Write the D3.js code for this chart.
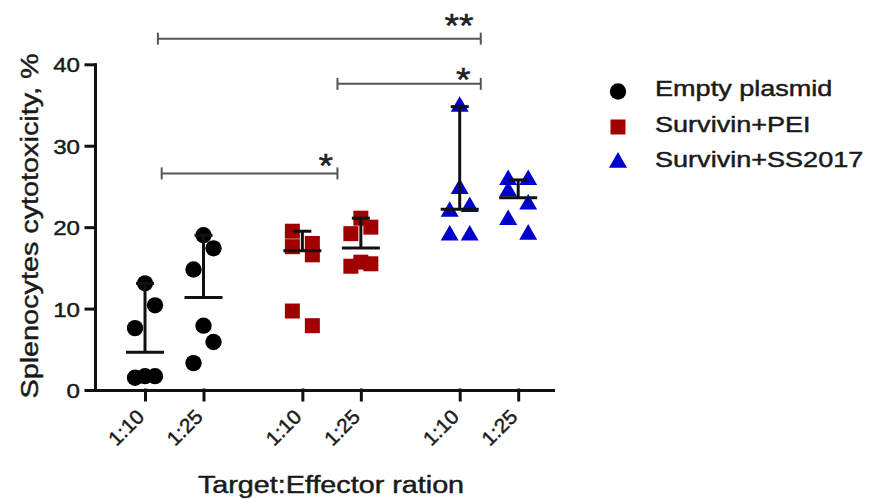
<!DOCTYPE html>
<html>
<head>
<meta charset="utf-8">
<script src="https://cdn.jsdelivr.net/npm/d3@7"></script>
<style>
  body { margin: 0; background: #fff; }
  svg { display: block; font-family: "Liberation Sans", Arial, sans-serif; }
  svg text { stroke: #1a1a1a; stroke-width: 0.45px; }
</style>
</head>
<body>
<div id="viz"></div>
<script>
// values
const groups = ["Empty plasmid", "Survivin+PEI", "Survivin+SS2017"];
const ratios = ["1:10", "1:25"];
const groupColors = ["#000000", "#a00000", "#0000cc"];
const groupShapes = [d3.symbolCircle, d3.symbolSquare, d3.symbolTriangle];
const emptyPlasmid = [[13.1, 10.4, 7.6, 1.7, 1.5, 1.7], [19.0, 17.4, 14.8, 7.9, 5.9, 3.3]];
const survivinPEI = [[19.5, 18.0, 17.6, 16.6, 9.7, 7.9], [21.1, 20.0, 19.2, 15.7, 15.5, 15.2]];
const survivinSS2017 = [[34.8, 24.7, 22.5, 21.9, 19.0, 19.0], [25.8, 25.8, 24.4, 22.8, 20.9, 19.1]];
const yTicks = [0, 10, 20, 30, 40];
// significance brackets: from/to column (index + fraction), height in %, label
const brackets = [
  { from: 0.22, to: 5.74, y: 43.15, label: "**", labelX: 5.37, labelY: 43.4 },
  { from: 3.29, to: 5.74, y: 37.6, label: "*", labelX: 5.44, labelY: 36.7 },
  { from: 0.285, to: 3.29, y: 26.6, label: "*", labelX: 3.09, labelY: 26.1 }
];

const seriesData = [emptyPlasmid, survivinPEI, survivinSS2017];
const width = 871, height = 499;
const groupGap = 0.69;

const svg = d3.select("#viz").append("svg")
  .attr("width", width)
  .attr("height", height);

const x = d3.scaleLinear().domain([-0.855, 6.975]).range([95, 553]);
const y = d3.scaleLinear().domain([0, 40]).range([390, 64.3]);

const columns = [];
seriesData.forEach((s, g) => {
  s.forEach((vals, r) => {
    columns.push({ g, r, pos: g * (2 + groupGap) + r, values: vals });
  });
});

// spread points that sit close together: runs of near values alternate sides
function spread(values) {
  const step = 10, gap = 25;
  const order = values.map((v, i) => i).sort((a, b) => values[b] - values[a]);
  const offsets = new Array(values.length).fill(0);
  const runs = [];
  order.forEach((i, k) => {
    if (k > 0 && y(values[i]) - y(values[order[k - 1]]) <= gap) runs[runs.length - 1].push(i);
    else runs.push([i]);
  });
  runs.forEach(run => {
    const odd = run.length % 2 === 1;
    run.forEach((i, k) => {
      if (odd) offsets[i] = k === 0 ? 0 : (k % 2 ? step : -step);
      else offsets[i] = k % 2 ? step : -step;
    });
  });
  return offsets;
}

// axes
const yAxis = svg.append("g")
  .attr("transform", "translate(95,0)")
  .call(d3.axisLeft(y).tickValues(yTicks).tickSize(9).tickSizeOuter(0));

const xAxis = svg.append("g")
  .attr("transform", "translate(0,390)")
  .call(d3.axisBottom(x)
    .tickValues(columns.map(c => c.pos))
    .tickFormat((d, i) => ratios[columns[i].r])
    .tickSize(10).tickSizeOuter(0));

svg.selectAll(".domain, .tick line")
  .attr("stroke", "#111")
  .attr("stroke-width", 3)
  .attr("stroke-linecap", "square");

yAxis.selectAll("text")
  .attr("x", 0).attr("dy", "0.36em")
  .attr("transform", "translate(-15,0) scale(1.15,1)")
  .style("font-size", "21px")
  .attr("fill", "#1a1a1a");

xAxis.selectAll("text")
  .attr("x", 0).attr("y", 0).attr("dy", 0)
  .attr("text-anchor", "end")
  .attr("transform", "translate(0,28) rotate(-45) scale(1.05,1)")
  .style("font-size", "20px")
  .attr("fill", "#1a1a1a");

// axis titles
svg.append("text")
  .attr("text-anchor", "middle")
  .attr("transform", "translate(38,226) rotate(-90) scale(1.2,1)")
  .style("font-size", "24px")
  .attr("fill", "#1a1a1a")
  .text("Splenocytes cytotoxicity, %");

svg.append("text")
  .attr("text-anchor", "middle")
  .attr("transform", "translate(331,493) scale(1.25,1)")
  .style("font-size", "23px")
  .attr("fill", "#1a1a1a")
  .text("Target:Effector ration");

// points
const symSize = [210, 225, 140];
columns.forEach(c => {
  const offs = spread(c.values);
  svg.append("g").selectAll("path")
    .data(c.values)
    .enter()
    .append("path")
    .attr("d", d3.symbol().type(groupShapes[c.g]).size(symSize[c.g]))
    .attr("transform", (d, i) => `translate(${x(c.pos) + offs[i]},${y(d)})`)
    .attr("fill", groupColors[c.g]);
});

// median line + range (above only)
columns.forEach(c => {
  const med = d3.median(c.values);
  const mx = d3.max(c.values);
  const cx = x(c.pos);
  const g = svg.append("g").attr("stroke", "#111").attr("stroke-width", 3);
  g.append("line").attr("x1", cx - 19).attr("x2", cx + 19).attr("y1", y(med)).attr("y2", y(med));
  g.append("line").attr("x1", cx).attr("x2", cx).attr("y1", y(med)).attr("y2", y(mx));
  g.append("line").attr("x1", cx - 9).attr("x2", cx + 9).attr("y1", y(mx)).attr("y2", y(mx));
});

// brackets
brackets.forEach(b => {
  const g = svg.append("g").attr("stroke", "#555").attr("stroke-width", 2);
  g.append("line").attr("x1", x(b.from)).attr("x2", x(b.to)).attr("y1", y(b.y)).attr("y2", y(b.y));
  [b.from, b.to].forEach(p => {
    g.append("line").attr("x1", x(p)).attr("x2", x(p)).attr("y1", y(b.y) - 6).attr("y2", y(b.y) + 6);
  });
  svg.append("text")
    .attr("text-anchor", "middle")
    .attr("transform", `translate(${x(b.labelX)},${y(b.labelY)}) scale(1.1,1)`)
    .style("font-size", "34px")
    .attr("fill", "#222")
    .text(b.label);
});

// legend
groups.forEach((name, i) => {
  const by = 96 + 35.5 * i;
  svg.append("path")
    .attr("d", d3.symbol().type(groupShapes[i]).size(symSize[i]))
    .attr("transform", `translate(618,${by - 4.5})`)
    .attr("fill", groupColors[i]);
  svg.append("text")
    .attr("transform", `translate(655,${by}) scale(1.23,1)`)
    .style("font-size", "22px")
    .attr("fill", "#1a1a1a")
    .text(name);
});
</script>
</body>
</html>
